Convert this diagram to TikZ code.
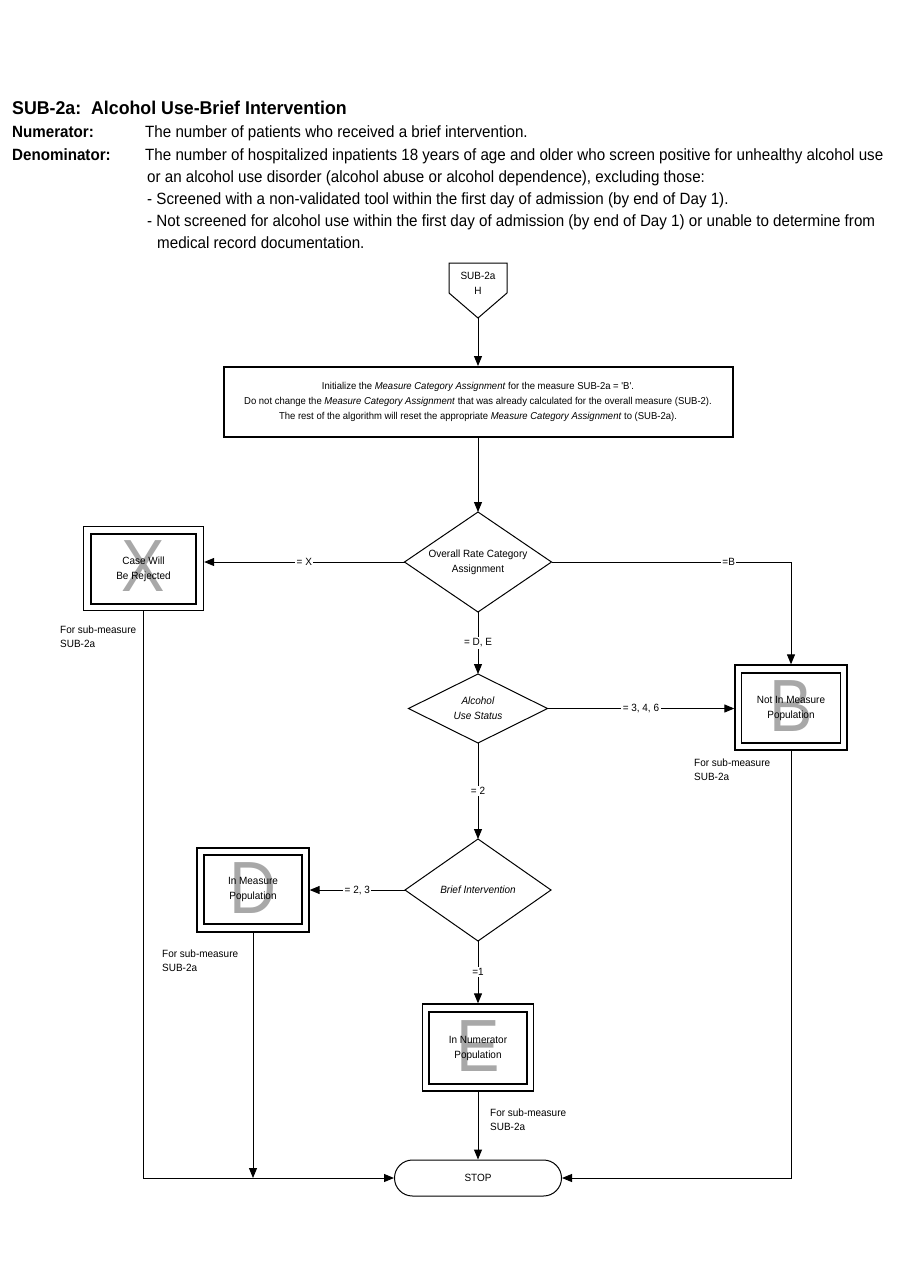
\documentclass[tikz,border=0pt]{standalone}
\usepackage{fontspec}
\setmainfont{Liberation Sans}
\newfontfamily\hdr[FakeStretch=0.93]{Liberation Sans}
\newfontfamily\hdt[FakeStretch=0.96]{Liberation Sans}
\newfontfamily\dg[FakeStretch=0.95]{Liberation Sans}
\newfontfamily\bg[FakeStretch=0.88]{Liberation Sans}
\usetikzlibrary{arrows.meta,shapes.geometric,shapes.misc}
\definecolor{biggray}{HTML}{A8A8A8}
\begin{document}
\begin{tikzpicture}[x=1pt,y=-1pt,
  ln/.style={line width=1pt},
  arr/.style={ln,-{Triangle[length=10pt,width=8pt]}},
  lbl/.style={fill=white,inner sep=1.5pt,font=\dg\fontsize{10.5}{12}\selectfont},
  dtext/.style={font=\dg\fontsize{10.5}{15}\selectfont,align=center},
  hd/.style={anchor=base west,inner sep=0pt,font=\hdr\fontsize{16.3}{18}\selectfont},
  hdb/.style={hd,font=\hdr\bfseries\fontsize{16.3}{18}\selectfont},
  outerbox/.style={draw,line width=1.3pt,inner sep=0pt},
  innerbox/.style={draw,line width=1.3pt,inner sep=0pt,dtext},
  bigl/.style={text=biggray,inner sep=0pt,font=\bg\fontsize{74}{74}\selectfont},
  note/.style={anchor=north west,inner sep=0pt,align=left,font=\dg\fontsize{10.5}{14}\selectfont}
]
\useasboundingbox (0,0) rectangle (900,1286);

% header
\node[hdb,font=\hdt\bfseries\fontsize{18.5}{20}\selectfont] (title) at (12,114) {SUB-2a:\ \ Alcohol Use-Brief Intervention};
\node[hdb] (numl) at (12,137) {Numerator:};
\node[hd] (numt) at (145,137) {The number of patients who received a brief intervention.};
\node[hdb] (denl) at (12,160) {Denominator:};
\node[hd] (den1) at (145,160) {The number of hospitalized inpatients 18 years of age and older who screen positive for unhealthy alcohol use};
\node[hd] (den2) at (147,182) {or an alcohol use disorder (alcohol abuse or alcohol dependence), excluding those:};
\node[hd] (den3) at (147,204) {- Screened with a non-validated tool within the first day of admission (by end of Day 1).};
\node[hd] (den4) at (147,226) {- Not screened for alcohol use within the first day of admission (by end of Day 1) or unable to determine from};
\node[hd] (den5) at (157,248) {medical record documentation.};

% start connector
\draw[ln] (449,263) -- (507,263) -- (507,293) -- (478,318) -- (449,293) -- cycle;
\coordinate (stip) at (478,318);
\node[dtext] (start) at (478,283) {SUB-2a\\H};

% init box
\node[draw,line width=2pt,minimum width=509pt,minimum height=70pt,inner sep=0pt,
      font=\dg\fontsize{10}{15}\selectfont,align=center] (init) at (478,402)
 {Initialize the \textit{Measure Category Assignment} for the measure SUB-2a = 'B'.\\
  Do not change the \textit{Measure Category Assignment} that was already calculated for the overall measure (SUB-2).\\
  The rest of the algorithm will reset the appropriate \textit{Measure Category Assignment} to (SUB-2a).};

% diamonds (drawn as outlines with named corner points)
\coordinate (d1n) at (478,512); \coordinate (d1e) at (551.5,562);
\coordinate (d1s) at (478,612); \coordinate (d1w) at (404.5,562);
\draw[ln] (d1n) -- (d1e) -- (d1s) -- (d1w) -- cycle;
\node[dtext] (d1) at (478,562) {Overall Rate Category\\Assignment};

\coordinate (d2n) at (478,674); \coordinate (d2e) at (547.5,708.5);
\coordinate (d2s) at (478,743); \coordinate (d2w) at (408.5,708.5);
\draw[ln] (d2n) -- (d2e) -- (d2s) -- (d2w) -- cycle;
\node[dtext] (d2) at (478,708.5) {\textit{Alcohol}\\\textit{Use Status}};

\coordinate (d3n) at (478,839); \coordinate (d3e) at (551,890);
\coordinate (d3s) at (478,941); \coordinate (d3w) at (405,890);
\draw[ln] (d3n) -- (d3e) -- (d3s) -- (d3w) -- cycle;
\node[dtext] (d3) at (478,890) {\textit{Brief Intervention}};

% X box
\node[bigl] (xl) at (143.5,566) {X};
\node[outerbox,minimum width=120pt,minimum height=84pt] (xo) at (143.5,568.5) {};
\node[innerbox,minimum width=105pt,minimum height=70pt] (xi) at (143.5,569) {Case Will\\Be Rejected};
% B box
\node[bigl] (bl) at (791,706) {B};
\node[outerbox,minimum width=112pt,minimum height=85pt] (bo) at (791,707.5) {};
\node[innerbox,minimum width=99pt,minimum height=70pt] (bi) at (791,708) {Not In Measure\\Population};
% D box
\node[bigl] (dl) at (253,888) {D};
\node[outerbox,minimum width=112pt,minimum height=84pt] (do) at (253,890) {};
\node[innerbox,minimum width=98pt,minimum height=69pt] (di) at (253,889.5) {In Measure\\Population};
% E box
\node[bigl] (el) at (478,1046) {E};
\node[outerbox,minimum width=111pt,minimum height=87pt] (eo) at (478,1047.5) {};
\node[innerbox,minimum width=98pt,minimum height=72pt] (ei) at (478,1048) {In Numerator\\Population};

% stop
\node[draw,line width=1pt,rounded rectangle,minimum width=167pt,minimum height=36pt,inner sep=0pt,dtext] (stop) at (478,1178) {STOP};

% notes
\node[note] (nx) at (60,626) {For sub-measure\\SUB-2a};
\node[note] (nb) at (694,759) {For sub-measure\\SUB-2a};
\node[note] (nd) at (162,950) {For sub-measure\\SUB-2a};
\node[note] (ne) at (490,1109) {For sub-measure\\SUB-2a};

% connectors
\draw[arr] (stip) -- (init.north);
\draw[arr] (init.south) -- (d1n);
\draw[arr] (d1w) -- node[lbl] {= X} (d1w -| xo.east);
\draw[arr] (d1e) -| node[lbl,pos=0.37] {=B} (bo.north);
\draw[arr] (d1s) -- node[lbl] {= D, E} (d2n);
\draw[arr] (d2e) -- node[lbl] {= 3, 4, 6} (d2e -| bo.west);
\draw[arr] (d2s) -- node[lbl] {= 2} (d3n);
\draw[arr] (d3w) -- node[lbl] {= 2, 3} (d3w -| do.east);
\draw[arr] (d3s) -- node[lbl] {=1} (eo.north);
\draw[arr] (eo.south) -- (stop.north);
\draw[arr] (xo.south) |- (stop.west);
\draw[arr] (bo.south) |- (stop.east);
\draw[arr] (do.south) -- (do.south |- stop.west);
\end{tikzpicture}
\end{document}
